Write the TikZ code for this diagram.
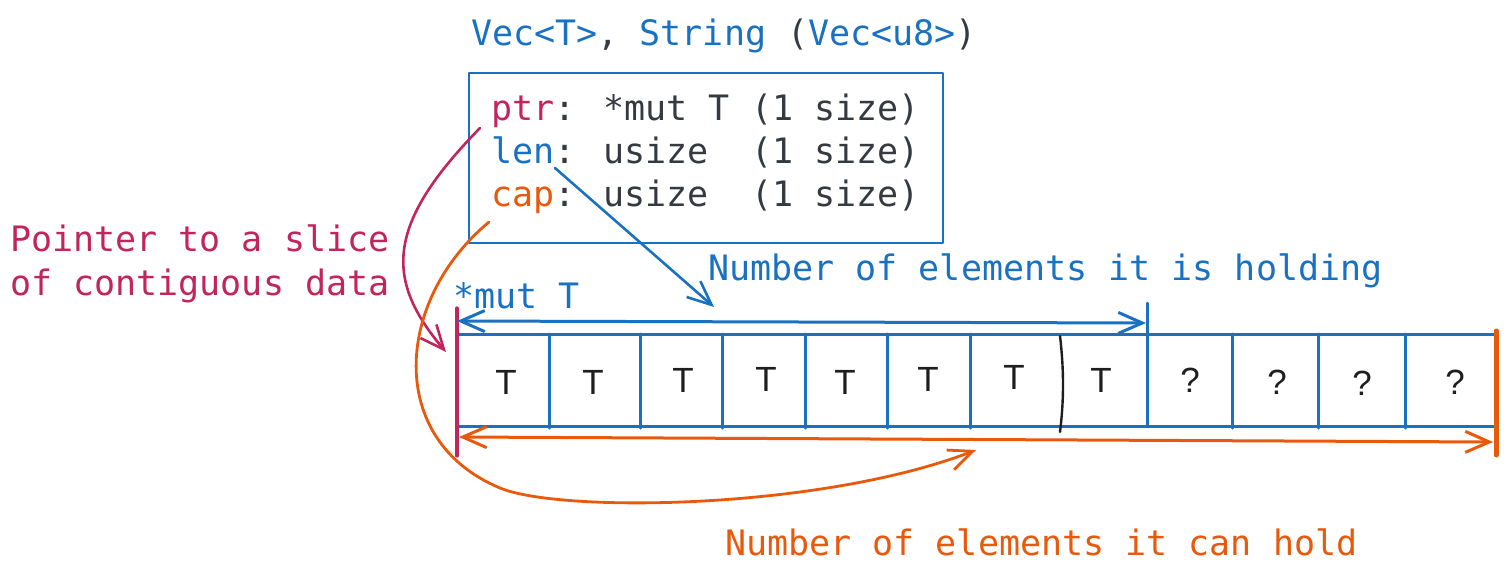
\documentclass[tikz,border=0pt]{standalone}
\usepackage{fontspec}
\setmainfont{Liberation Sans}
\newfontfamily\codefont{DejaVu Sans Mono}
\usetikzlibrary{arrows.meta}
\definecolor{cblue}{HTML}{1971C2}
\definecolor{cpink}{HTML}{C2255C}
\definecolor{corange}{HTML}{E8590C}
\definecolor{cdark}{HTML}{343A40}
\definecolor{cblack}{HTML}{1E1E1E}
\tikzset{
  codetext/.style={inner sep=0pt, anchor=base west, font=\codefont\fontsize{35}{42}\selectfont},
  celltext/.style={inner sep=0pt, font=\fontsize{35}{42}\selectfont, text=cblack},
  barbs/.style={arrows={Straight Barb[length=24pt,width=21pt]-Straight Barb[length=24pt,width=21pt]}},
  barbend/.style={arrows={-Straight Barb[length=24pt,width=21pt]}},
  gridline/.style={draw=cblue, line width=3pt},
  thinbox/.style={draw=cblue, line width=1.4pt},
}
\begin{document}
\begin{tikzpicture}[x=1pt,y=-1pt, line cap=round, line join=round]
\useasboundingbox (0,0) rectangle (1509,574);

% title
\node[codetext] (title) at (471,45) {\textcolor{cblue}{Vec<T>}\textcolor{cdark}{,}\ \textcolor{cblue}{String}\ \textcolor{cdark}{(}\textcolor{cblue}{Vec<u8>}\textcolor{cdark}{)}};

% struct box
\node[thinbox, minimum width=474pt, minimum height=170pt, inner sep=0pt] (vecbox) at (706,158) {};
\node[codetext] (lptr) at (491,120) {\textcolor{cpink}{ptr}\textcolor{cdark}{: *mut T (1 size)}};
\node[codetext] (llen) at (491,163) {\textcolor{cblue}{len}\textcolor{cdark}{: usize~~(1 size)}};
\node[codetext] (lcap) at (491,206) {\textcolor{corange}{cap}\textcolor{cdark}{: usize~~(1 size)}};

% labels
\node[codetext, text=cpink] (pointer1) at (10,251) {Pointer to a slice};
\node[codetext, text=cpink] (pointer2) at (10,295) {of contiguous data};
\node[codetext, text=cblue] (holding) at (708,280) {Number of elements it is holding};
\node[codetext, text=cblue] (mutT) at (453,308) {*mut T};
\node[codetext, text=corange] (canhold) at (725,555) {Number of elements it can hold};

% array
\node[gridline, minimum width=1040pt, minimum height=92pt, inner sep=0pt] (arr) at (977,380) {};
\foreach \x in {549,640,722,805,887,970,1232,1318,1405}{
  \draw[gridline] (\x,334) -- (\x,428);
}
\draw[draw=cblack, line width=2.4pt] (1060,336) .. controls (1064,370) and (1064,400) .. (1060,432);
\draw[gridline] (1147,303) -- (1147,426);

% cells
\node[celltext] (c1) at (506,382) {T};
\node[celltext] (c2) at (593,382) {T};
\node[celltext] (c3) at (683,380) {T};
\node[celltext] (c4) at (766,379) {T};
\node[celltext] (c5) at (845,382) {T};
\node[celltext] (c6) at (928,379) {T};
\node[celltext] (c7) at (1014,377) {T};
\node[celltext] (c8) at (1101,380) {T};
\node[celltext] (c9) at (1190,380) {?};
\node[celltext] (c10) at (1277,382) {?};
\node[celltext] (c11) at (1362,383) {?};
\node[celltext] (c12) at (1455,382) {?};

% markers
\coordinate (lenL) at (457,321);
\coordinate (lenR) at (1146,323);
\coordinate (capL) at (459,437);
\coordinate (capR) at (1493,442);
\draw[draw=cpink, line width=3.2pt] (457,308) -- (457,456);
\draw[draw=corange, line width=5pt] (1496,331) -- (1496,455);

% dimension arrows
\draw[cblue, line width=3pt, barbs] (lenL) -- (lenR);
\draw[corange, line width=3pt, barbs] (capL) -- (capR);

% connectors
\coordinate (ptrS) at (480,128);
\coordinate (ptrE) at (446,352);
\draw[cpink, line width=2.6pt, barbend] (ptrS) .. controls (385,225) and (385,280) .. (ptrE);

\coordinate (lenS) at (555,168);
\coordinate (lenE) at (714,307);
\draw[cblue, line width=2.6pt, barbend] (lenS) -- (lenE);

\coordinate (capS) at (489,222);
\coordinate (capM) at (500,488);
\coordinate (capE) at (976,450);
\draw[corange, line width=2.8pt, barbend] (capS) .. controls (395,300) and (385,440) .. (capM) .. controls (560,513) and (820,510) .. (capE);
\end{tikzpicture}
\end{document}
